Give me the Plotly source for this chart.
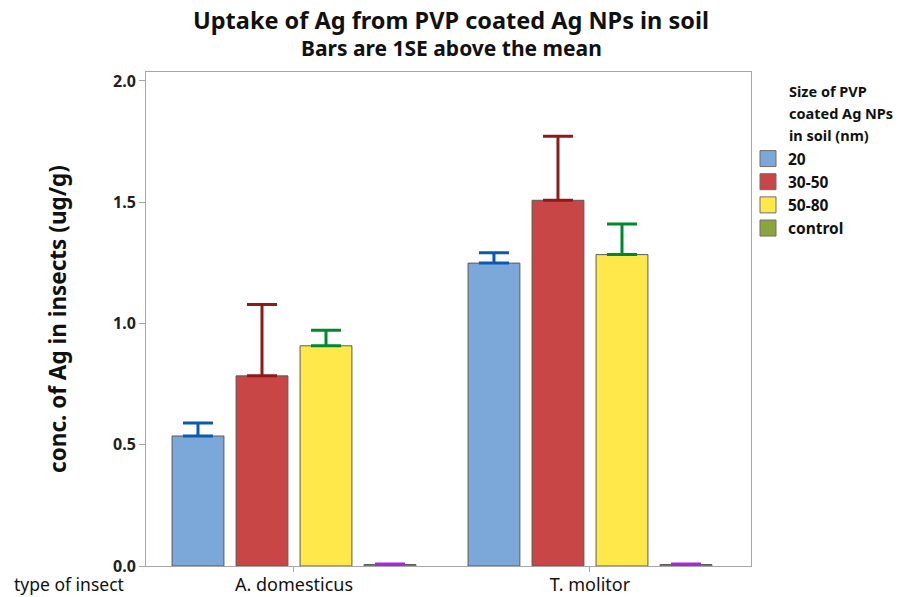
import plotly.graph_objects as go

insects = ["A. domesticus", "T. molitor"]
sizes = ["20", "30-50", "50-80", "control"]
means = {
    "20": [0.536, 1.249],
    "30-50": [0.784, 1.508],
    "50-80": [0.908, 1.284],
    "control": [0.006, 0.006],
}
se = {
    "20": [0.054, 0.043],
    "30-50": [0.294, 0.264],
    "50-80": [0.064, 0.126],
    "control": [0.002, 0.002],
}
bar_colors = {"20": "#7BA7D9", "30-50": "#C84646", "50-80": "#FFE94A", "control": "#8BA53C"}
err_colors = {"20": "#0A5BB0", "30-50": "#8E1A1A", "50-80": "#00882E", "control": "#A22BD6"}
legend_title_lines = ["Size of PVP", "coated Ag NPs", "in soil (nm)"]

FONT = "Noto Sans"
PLOT_TOP, PLOT_BOTTOM, PLOT_LEFT, PLOT_RIGHT = 72, 566, 146, 751
PH = PLOT_BOTTOM - PLOT_TOP
PW = PLOT_RIGHT - PLOT_LEFT


def py(pix):
    return (PLOT_BOTTOM - pix) / PH


def px(pix):
    return (pix - PLOT_LEFT) / PW


fig = go.Figure()
for s in sizes:
    fig.add_trace(go.Bar(
        x=insects, y=means[s], name=s, showlegend=False,
        marker=dict(color=bar_colors[s], line=dict(color="#5A5A5A", width=1)),
        error_y=dict(type="data", array=se[s], arrayminus=[0] * len(se[s]), symmetric=False,
                     color=err_colors[s], thickness=3, width=15),
    ))
for s in sizes:
    fig.add_trace(go.Scatter(
        x=[None], y=[None], mode="markers", name=s,
        marker=dict(symbol="square", size=16, color=bar_colors[s], line=dict(color="#6E6E6E", width=1)),
    ))

annotations = [
    dict(text="<b>Uptake of Ag from PVP coated Ag NPs in soil</b>", xref="paper", yref="paper",
         x=px(451), y=py(20), xanchor="center", yanchor="middle", showarrow=False,
         font=dict(size=23.5, family=FONT, color="#111111")),
    dict(text="<b>Bars are 1SE above the mean</b>", xref="paper", yref="paper",
         x=px(451), y=py(48), xanchor="center", yanchor="middle", showarrow=False,
         font=dict(size=21, family=FONT, color="#111111")),
    dict(text="type of insect", xref="paper", yref="paper", x=px(12), y=py(584),
         xanchor="left", yanchor="middle", showarrow=False,
         font=dict(size=17.5, family=FONT, color="#111111")),
]
for i, line in enumerate(legend_title_lines):
    annotations.append(dict(
        text="<b>%s</b>" % line, xref="paper", yref="paper", x=px(787), y=py(91 + 22 * i),
        xanchor="left", yanchor="middle", showarrow=False,
        font=dict(size=14.5, family=FONT, color="#111111")))

fig.update_layout(
    width=906, height=597,
    margin=dict(l=PLOT_LEFT, r=906 - PLOT_RIGHT, t=PLOT_TOP, b=597 - PLOT_BOTTOM),
    paper_bgcolor="white", plot_bgcolor="white",
    font=dict(family=FONT, color="#1A1A1A"),
    barmode="group", bargap=0.135, bargroupgap=0.19,
    legend=dict(
        x=px(748), xanchor="left", y=py(142), yanchor="top",
        font=dict(size=15.5, family=FONT, color="#111111", weight="bold"),
        bgcolor="rgba(0,0,0,0)", itemwidth=30, tracegroupgap=0,
    ),
    xaxis=dict(
        type="category", range=[-0.5, 1.544], automargin=False,
        showline=True, linecolor="#A6A6A6", linewidth=1, mirror=True,
        ticks="outside", ticklen=5, tickcolor="#A6A6A6", ticklabelstandoff=-3,
        tickfont=dict(size=18, family=FONT, color="#111111"),
        showgrid=False, zeroline=False,
    ),
    yaxis=dict(
        range=[0, 2.037], automargin=False,
        tickvals=[0, 0.5, 1.0, 1.5, 2.0], ticktext=["0.0", "0.5", "1.0", "1.5", "2.0"],
        showline=True, linecolor="#A6A6A6", linewidth=1, mirror=True,
        ticks="outside", ticklen=6, tickcolor="#A6A6A6",
        tickfont=dict(size=16, family=FONT, color="#222222", weight="bold"),
        showgrid=False, zeroline=False,
        title=dict(text="<b>conc. of Ag in insects (ug/g)</b>",
                   font=dict(size=22.5, family=FONT, color="#111111"), standoff=40),
    ),
    annotations=annotations,
)

fig.write_html("out.html")
